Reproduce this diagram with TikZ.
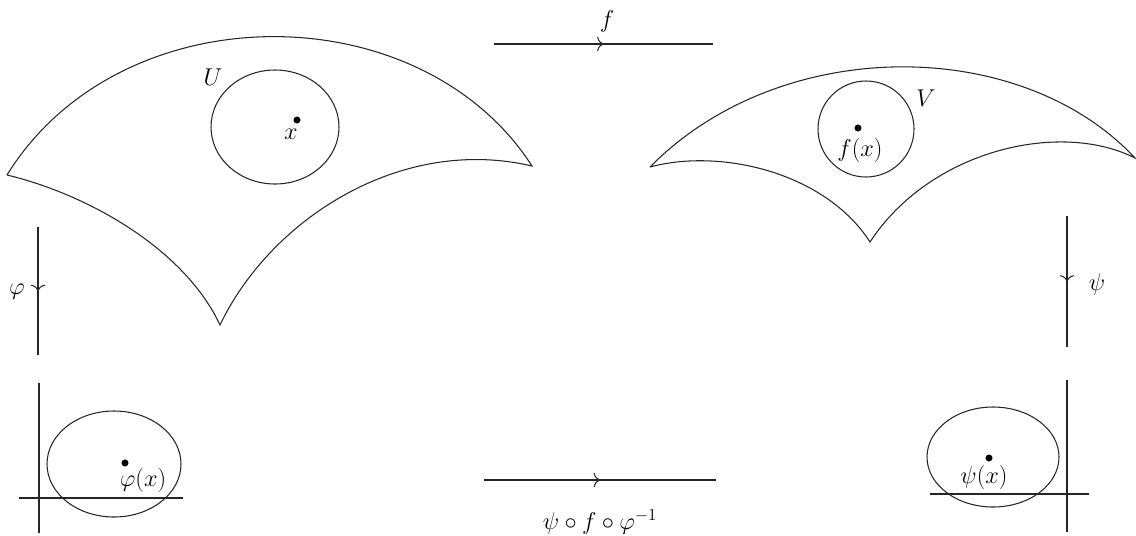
\documentclass[tikz,border=0pt]{standalone}
\usetikzlibrary{arrows.meta,decorations.markings}

\begin{document}
\begin{tikzpicture}[
        x=0.025cm, y=-0.025cm,
        line width=0.75pt,
        region/.style={draw=black!85, line width=0.75pt},
        axis/.style={draw=black!85, line width=0.75pt},
        lbl/.style={inner sep=0pt, font=\LARGE},
        pt/.style={circle, fill=black, inner sep=0pt, minimum size=5pt},
        maparrow/.style={
            draw=black!85,
            postaction={decorate},
            decoration={markings, mark=at position 0.5 with {\arrow[line width=0.75pt]{To[length=4.5pt, width=10pt]}}}
        }
    ]
        \useasboundingbox (0,0) rectangle (1136,535);

        % chart domain U
        \draw[region] (7,175) .. controls (120,-8) and (420,-8) .. (532,166)
            .. controls (400,135) and (270,220) .. (220,325)
            .. controls (185,250) and (90,195) .. (7,175);
        \draw[region] (275,127) ellipse [x radius=64, y radius=57];
        \node[pt] (px) at (297,120) {};
        \node[lbl] (lx) at (291,134) {$x$};
        \node[lbl] (lU) at (213,77) {$U$};

        % chart domain V
        \draw[region] (650,167) .. controls (780,35) and (1020,35) .. (1135,158)
            .. controls (1060,120) and (930,150) .. (870,242)
            .. controls (825,172) and (720,148) .. (650,167);
        \draw[region] (866,129) circle [radius=48];
        \node[pt] (pfx) at (858,128) {};
        \node[lbl] (lfx) at (860,150) {$f(x)$};
        \node[lbl] (lV) at (926,98) {$V$};

        % image of U
        \draw[axis] (39,383) -- (39,533);
        \draw[axis] (19,498) -- (183,498);
        \draw[region] (114,464) ellipse [x radius=67, y radius=53];
        \node[pt] (ppx) at (125,463) {};
        \node[lbl] (lpx) at (143,480) {$\varphi(x)$};

        % image of V
        \draw[axis] (1067,380) -- (1067,532);
        \draw[axis] (930,494) -- (1089,494);
        \draw[region] (993,457) ellipse [x radius=66, y radius=50];
        \node[pt] (psx) at (989,458) {};
        \node[lbl] (lsx) at (984,477) {$\psi(x)$};

        % maps
        \coordinate (fA) at (494,44);
        \coordinate (fB) at (713,44);
        \coordinate (phA) at (38,227);
        \coordinate (phB) at (38,355);
        \coordinate (psA) at (1067,216);
        \coordinate (psB) at (1067,347);
        \coordinate (tA) at (484,480);
        \coordinate (tB) at (716,480);

        \draw[maparrow] (fA) -- (fB);
        \draw[maparrow] (phA) -- (phB);
        \draw[maparrow] (psA) -- (psB);
        \draw[maparrow] (tA) -- (tB);

        \node[lbl] (lf) at (607,21) {$f$};
        \node[lbl] (lphi) at (17,292) {$\varphi$};
        \node[lbl] (lpsi) at (1097,284) {$\psi$};
        \node[lbl] (ltr) at (600,522) {$\psi\circ f\circ\varphi^{-1}$};
    \end{tikzpicture}
\end{document}
